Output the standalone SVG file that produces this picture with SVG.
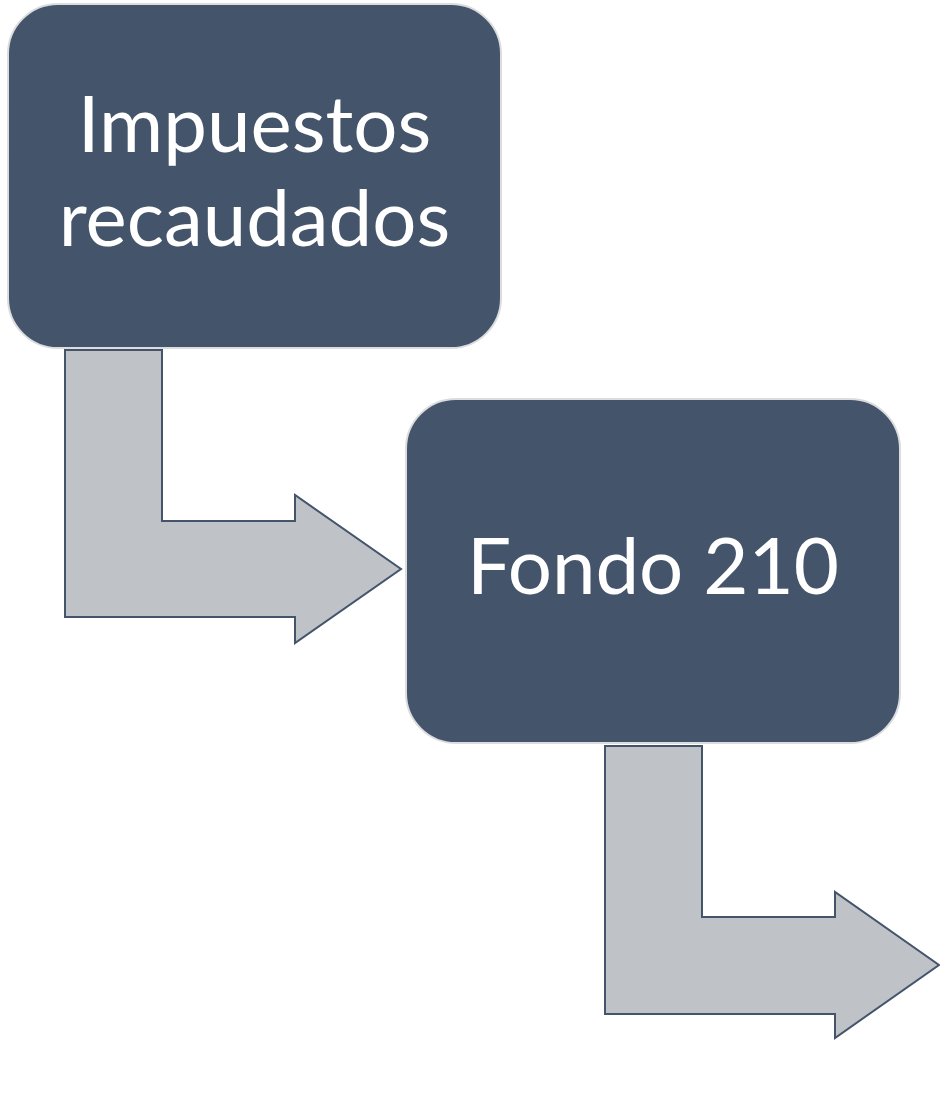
<svg xmlns="http://www.w3.org/2000/svg" width="940" height="1109" viewBox="0 0 940 1109">
<style>
.box{fill:#44546A;stroke:#DADCDE;stroke-width:2}
.lbl{fill:#FFFFFF;font-family:Lato,"Open Sans",sans-serif;font-size:78px;text-anchor:middle}
.arr{fill:#BFC3C8;stroke:#44546A;stroke-width:2;stroke-linejoin:miter}
</style>
<rect width="940" height="1109" fill="#FFFFFF"/>
<g id="connectors">
<polygon class="arr" points="65,350 162,350 162,521 295,521 295,495 401,569 295,643 295,617 65,617"/>
<polygon class="arr" points="605,746 702,746 702,917 835,917 835,892 939,965 835,1038 835,1014 605,1014"/>
</g>
<g id="node-impuestos">
<rect class="box" x="8" y="4" width="493" height="344" rx="50" ry="50"/>
<text class="lbl" x="254.5" y="152">Impuestos</text>
<text class="lbl" x="254.5" y="246">recaudados</text>
</g>
<g id="node-fondo">
<rect class="box" x="406" y="399" width="494" height="344" rx="50" ry="50"/>
<text class="lbl" x="653" y="594">Fondo 210</text>
</g>
</svg>
